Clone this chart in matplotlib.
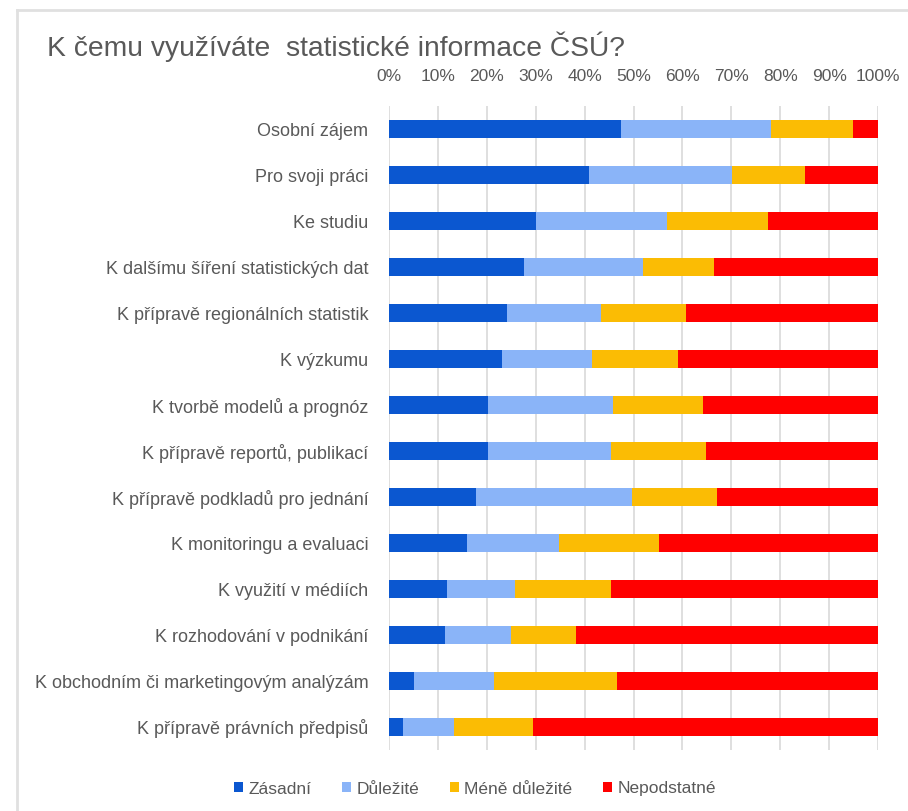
import numpy as np
import matplotlib
matplotlib.use("Agg")
import matplotlib.pyplot as plt
from matplotlib.lines import Line2D
from matplotlib.ticker import PercentFormatter

# categories, top to bottom
categories = [
    "Osobní zájem",
    "Pro svoji práci",
    "Ke studiu",
    "K dalšímu šíření statistických dat",
    "K přípravě regionálních statistik",
    "K výzkumu",
    "K tvorbě modelů a prognóz",
    "K přípravě reportů, publikací",
    "K přípravě podkladů pro jednání",
    "K monitoringu a evaluaci",
    "K využití v médiích",
    "K rozhodování v podnikání",
    "K obchodním či marketingovým analýzám",
    "K přípravě právních předpisů",
]

# shares in %
zasadni = [47.4, 40.9, 30.1, 27.7, 24.1, 23.2, 20.2, 20.2, 17.7, 16.0, 11.9, 11.5, 5.1, 2.9]
dulezite = [30.8, 29.3, 26.8, 24.3, 19.2, 18.4, 25.6, 25.1, 31.9, 18.8, 13.9, 13.5, 16.4, 10.3]
mene_dulezite = [16.6, 14.9, 20.7, 14.5, 17.4, 17.5, 18.5, 19.5, 17.5, 20.4, 19.5, 13.3, 25.1, 16.2]
nepodstatne = [5.2, 14.9, 22.4, 33.5, 39.3, 40.9, 35.7, 35.2, 32.9, 44.8, 54.7, 61.7, 53.4, 70.6]

series = ["Zásadní", "Důležité", "Méně důležité", "Nepodstatné"]
colors = ["#0b57d0", "#8ab4f8", "#fbbc04", "#ff0000"]

plt.rcParams['font.family'] = ['Liberation Sans', 'DejaVu Sans']
text_col = "#595959"

fig = plt.figure(figsize=(9.08, 8.11), dpi=100)
ax = fig.add_axes([389 / 908, 1 - 750 / 811, 489 / 908, 644 / 811])

y = np.arange(len(categories))
left = np.zeros(len(categories))
for name, vals, col in zip(series, [zasadni, dulezite, mene_dulezite, nepodstatne], colors):
    vals = np.array(vals)
    ax.barh(y, vals, left=left, height=0.4, color=col, label=name, zorder=3)
    left += vals

ax.set_xlim(0, 100)
ax.set_ylim(len(categories) - 0.5, -0.5)
ax.set_xticks(np.arange(0, 101, 10))
ax.xaxis.set_major_formatter(PercentFormatter(decimals=0))
ax.xaxis.tick_top()
ax.set_yticks(y)
ax.set_yticklabels(categories)
ax.tick_params(axis='both', length=0, colors=text_col)
ax.tick_params(axis='x', pad=16, labelsize=12.5)
ax.tick_params(axis='y', pad=15, labelsize=13)
ax.grid(axis='x', color="#d9d9d9", linewidth=1.2, zorder=0)
for s in ax.spines.values():
    s.set_visible(False)

fig.text(47 / 908, 1 - 47 / 811, "K čemu využíváte  statistické informace ČSÚ?",
         fontsize=20.3, color=text_col, va='center', ha='left')

ax.legend(loc='center', bbox_to_anchor=(475 / 908, 1 - 789 / 811),
          bbox_transform=fig.transFigure, ncol=4, frameon=False,
          fontsize=12.5, labelcolor=text_col, handlelength=0.5, handleheight=0.5,
          handletextpad=0.3, columnspacing=1.8)

# thin frame lines at left and top
fig.add_artist(Line2D([17 / 908, 17 / 908], [0, 1 - 10 / 811], color="#e0e0e0", linewidth=2,
                      transform=fig.transFigure))
fig.add_artist(Line2D([17 / 908, 1], [1 - 10 / 811, 1 - 10 / 811], color="#e0e0e0", linewidth=2,
                      transform=fig.transFigure))

fig.savefig("out.png", dpi=100)
